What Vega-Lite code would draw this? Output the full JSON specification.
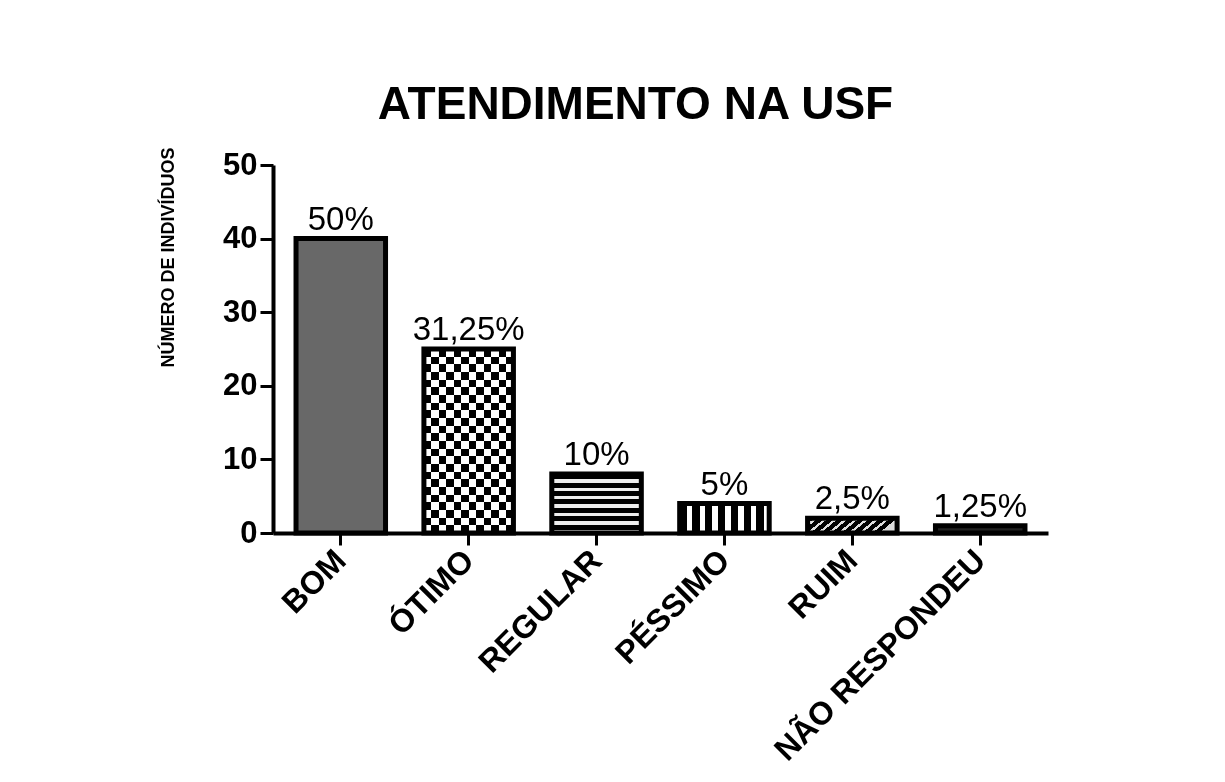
{
  "$schema": "https://vega.github.io/schema/vega-lite/v6.json",
  "width": 775,
  "height": 368,
  "autosize": {"type": "none"},
  "padding": {"left": 273, "top": 165, "right": 177, "bottom": 249},
  "background": "white",
  "title": {
    "text": "ATENDIMENTO NA USF",
    "font": "Liberation Sans",
    "fontSize": 46,
    "fontWeight": "bold",
    "color": "black",
    "anchor": "middle",
    "baseline": "alphabetic",
    "dx": -25,
    "dy": 62,
    "offset": 44
  },
  "data": {
    "values": [
      {"cat": "BOM", "n": 40, "pct": "50%"},
      {"cat": "ÓTIMO", "n": 25, "pct": "31,25%"},
      {"cat": "REGULAR", "n": 8, "pct": "10%"},
      {"cat": "PÉSSIMO", "n": 4, "pct": "5%"},
      {"cat": "RUIM", "n": 2, "pct": "2,5%"},
      {"cat": "NÃO RESPONDEU", "n": 1, "pct": "1,25%"}
    ]
  },
  "encoding": {
    "x": {
      "field": "cat",
      "type": "nominal",
      "sort": ["BOM", "ÓTIMO", "REGULAR", "PÉSSIMO", "RUIM", "NÃO RESPONDEU"],
      "scale": {"paddingInner": 0.3, "paddingOuter": 0.18},
      "axis": {
        "title": null,
        "labelAngle": -45,
        "labelAlign": "right",
        "labelBaseline": "middle",
        "labelFontSize": 32,
        "labelPadding": 10,
        "labelLimit": 600,
        "tickSize": 12
      }
    },
    "y": {
      "field": "n",
      "type": "quantitative",
      "scale": {"domain": [0, 50]},
      "axis": {
        "title": "NÚMERO DE INDIVÍDUOS",
        "titleFont": "Liberation Sans",
        "titleFontSize": 18,
        "titleFontWeight": "bold",
        "titleColor": "black",
        "titleAngle": -90,
        "titleAlign": "center",
        "titleBaseline": "alphabetic",
        "titleX": -100,
        "titleY": 92,
        "values": [0, 10, 20, 30, 40, 50],
        "labelFontSize": 31,
        "labelPadding": 3,
        "tickSize": 13
      }
    }
  },
  "layer": [
    {
      "mark": {"type": "bar", "strokeWidth": 0},
      "encoding": {
        "fill": {
          "condition": [
            {
              "test": "datum.cat === 'ÓTIMO'",
              "value": {
                "gradient": "linear", "x1": 0, "y1": 0, "x2": 0, "y2": 1,
                "stops": [
                  {"offset": 0, "color": "#000"}, {"offset": 0.0417, "color": "#000"}, {"offset": 0.0417, "color": "#fff"}, {"offset": 0.0833, "color": "#fff"},
                  {"offset": 0.0833, "color": "#000"}, {"offset": 0.125, "color": "#000"}, {"offset": 0.125, "color": "#fff"}, {"offset": 0.1667, "color": "#fff"},
                  {"offset": 0.1667, "color": "#000"}, {"offset": 0.2083, "color": "#000"}, {"offset": 0.2083, "color": "#fff"}, {"offset": 0.25, "color": "#fff"},
                  {"offset": 0.25, "color": "#000"}, {"offset": 0.2917, "color": "#000"}, {"offset": 0.2917, "color": "#fff"}, {"offset": 0.3333, "color": "#fff"},
                  {"offset": 0.3333, "color": "#000"}, {"offset": 0.375, "color": "#000"}, {"offset": 0.375, "color": "#fff"}, {"offset": 0.4167, "color": "#fff"},
                  {"offset": 0.4167, "color": "#000"}, {"offset": 0.4583, "color": "#000"}, {"offset": 0.4583, "color": "#fff"}, {"offset": 0.5, "color": "#fff"},
                  {"offset": 0.5, "color": "#000"}, {"offset": 0.5417, "color": "#000"}, {"offset": 0.5417, "color": "#fff"}, {"offset": 0.5833, "color": "#fff"},
                  {"offset": 0.5833, "color": "#000"}, {"offset": 0.625, "color": "#000"}, {"offset": 0.625, "color": "#fff"}, {"offset": 0.6667, "color": "#fff"},
                  {"offset": 0.6667, "color": "#000"}, {"offset": 0.7083, "color": "#000"}, {"offset": 0.7083, "color": "#fff"}, {"offset": 0.75, "color": "#fff"},
                  {"offset": 0.75, "color": "#000"}, {"offset": 0.7917, "color": "#000"}, {"offset": 0.7917, "color": "#fff"}, {"offset": 0.8333, "color": "#fff"},
                  {"offset": 0.8333, "color": "#000"}, {"offset": 0.875, "color": "#000"}, {"offset": 0.875, "color": "#fff"}, {"offset": 0.9167, "color": "#fff"},
                  {"offset": 0.9167, "color": "#000"}, {"offset": 0.9583, "color": "#000"}, {"offset": 0.9583, "color": "#fff"}, {"offset": 1, "color": "#fff"}
                ]
              }
            },
            {
              "test": "datum.cat === 'REGULAR'",
              "value": {
                "gradient": "linear", "x1": 0, "y1": 0, "x2": 0, "y2": 1,
                "stops": [
                  {"offset": 0, "color": "#000"}, {"offset": 0.0857, "color": "#000"}, {"offset": 0.0857, "color": "#eee"}, {"offset": 0.1429, "color": "#eee"},
                  {"offset": 0.1429, "color": "#000"}, {"offset": 0.2286, "color": "#000"}, {"offset": 0.2286, "color": "#eee"}, {"offset": 0.2857, "color": "#eee"},
                  {"offset": 0.2857, "color": "#000"}, {"offset": 0.3714, "color": "#000"}, {"offset": 0.3714, "color": "#eee"}, {"offset": 0.4286, "color": "#eee"},
                  {"offset": 0.4286, "color": "#000"}, {"offset": 0.5143, "color": "#000"}, {"offset": 0.5143, "color": "#eee"}, {"offset": 0.5714, "color": "#eee"},
                  {"offset": 0.5714, "color": "#000"}, {"offset": 0.6571, "color": "#000"}, {"offset": 0.6571, "color": "#eee"}, {"offset": 0.7143, "color": "#eee"},
                  {"offset": 0.7143, "color": "#000"}, {"offset": 0.8, "color": "#000"}, {"offset": 0.8, "color": "#eee"}, {"offset": 0.8571, "color": "#eee"},
                  {"offset": 0.8571, "color": "#000"}, {"offset": 0.9429, "color": "#000"}, {"offset": 0.9429, "color": "#eee"}, {"offset": 1, "color": "#eee"}
                ]
              }
            },
            {
              "test": "datum.cat === 'PÉSSIMO'",
              "value": {
                "gradient": "linear", "x1": 0, "y1": 0, "x2": 1, "y2": 0,
                "stops": [
                  {"offset": 0, "color": "#000"}, {"offset": 0.08, "color": "#000"}, {"offset": 0.08, "color": "#fff"}, {"offset": 0.1429, "color": "#fff"},
                  {"offset": 0.1429, "color": "#000"}, {"offset": 0.2229, "color": "#000"}, {"offset": 0.2229, "color": "#fff"}, {"offset": 0.2857, "color": "#fff"},
                  {"offset": 0.2857, "color": "#000"}, {"offset": 0.3657, "color": "#000"}, {"offset": 0.3657, "color": "#fff"}, {"offset": 0.4286, "color": "#fff"},
                  {"offset": 0.4286, "color": "#000"}, {"offset": 0.5086, "color": "#000"}, {"offset": 0.5086, "color": "#fff"}, {"offset": 0.5714, "color": "#fff"},
                  {"offset": 0.5714, "color": "#000"}, {"offset": 0.6514, "color": "#000"}, {"offset": 0.6514, "color": "#fff"}, {"offset": 0.7143, "color": "#fff"},
                  {"offset": 0.7143, "color": "#000"}, {"offset": 0.7943, "color": "#000"}, {"offset": 0.7943, "color": "#fff"}, {"offset": 0.8571, "color": "#fff"},
                  {"offset": 0.8571, "color": "#000"}, {"offset": 0.9371, "color": "#000"}, {"offset": 0.9371, "color": "#fff"}, {"offset": 1, "color": "#fff"}
                ]
              }
            },
            {
              "test": "datum.cat === 'RUIM'",
              "value": {
                "gradient": "linear", "x1": 0, "y1": 0, "x2": 1, "y2": 0.2,
                "stops": [
                  {"offset": 0, "color": "#000"}, {"offset": 0.0722, "color": "#000"}, {"offset": 0.0722, "color": "#ddd"}, {"offset": 0.1111, "color": "#ddd"},
                  {"offset": 0.1111, "color": "#000"}, {"offset": 0.1833, "color": "#000"}, {"offset": 0.1833, "color": "#ddd"}, {"offset": 0.2222, "color": "#ddd"},
                  {"offset": 0.2222, "color": "#000"}, {"offset": 0.2944, "color": "#000"}, {"offset": 0.2944, "color": "#ddd"}, {"offset": 0.3333, "color": "#ddd"},
                  {"offset": 0.3333, "color": "#000"}, {"offset": 0.4056, "color": "#000"}, {"offset": 0.4056, "color": "#ddd"}, {"offset": 0.4444, "color": "#ddd"},
                  {"offset": 0.4444, "color": "#000"}, {"offset": 0.5167, "color": "#000"}, {"offset": 0.5167, "color": "#ddd"}, {"offset": 0.5556, "color": "#ddd"},
                  {"offset": 0.5556, "color": "#000"}, {"offset": 0.6278, "color": "#000"}, {"offset": 0.6278, "color": "#ddd"}, {"offset": 0.6667, "color": "#ddd"},
                  {"offset": 0.6667, "color": "#000"}, {"offset": 0.7389, "color": "#000"}, {"offset": 0.7389, "color": "#ddd"}, {"offset": 0.7778, "color": "#ddd"},
                  {"offset": 0.7778, "color": "#000"}, {"offset": 0.85, "color": "#000"}, {"offset": 0.85, "color": "#ddd"}, {"offset": 0.8889, "color": "#ddd"},
                  {"offset": 0.8889, "color": "#000"}, {"offset": 0.9611, "color": "#000"}, {"offset": 0.9611, "color": "#ddd"}, {"offset": 1, "color": "#ddd"}
                ]
              }
            },
            {"test": "datum.cat === 'NÃO RESPONDEU'", "value": "#222"}
          ],
          "value": "#686868"
        }
      }
    },
    {
      "transform": [{"filter": "datum.cat === 'ÓTIMO'"}],
      "mark": {
        "type": "bar",
        "strokeWidth": 0,
        "blend": "difference",
        "fill": {
          "gradient": "linear", "x1": 0, "y1": 0, "x2": 1, "y2": 0,
          "stops": [
            {"offset": 0, "color": "#000"}, {"offset": 0.0833, "color": "#000"}, {"offset": 0.0833, "color": "#fff"}, {"offset": 0.1667, "color": "#fff"},
            {"offset": 0.1667, "color": "#000"}, {"offset": 0.25, "color": "#000"}, {"offset": 0.25, "color": "#fff"}, {"offset": 0.3333, "color": "#fff"},
            {"offset": 0.3333, "color": "#000"}, {"offset": 0.4167, "color": "#000"}, {"offset": 0.4167, "color": "#fff"}, {"offset": 0.5, "color": "#fff"},
            {"offset": 0.5, "color": "#000"}, {"offset": 0.5833, "color": "#000"}, {"offset": 0.5833, "color": "#fff"}, {"offset": 0.6667, "color": "#fff"},
            {"offset": 0.6667, "color": "#000"}, {"offset": 0.75, "color": "#000"}, {"offset": 0.75, "color": "#fff"}, {"offset": 0.8333, "color": "#fff"},
            {"offset": 0.8333, "color": "#000"}, {"offset": 0.9167, "color": "#000"}, {"offset": 0.9167, "color": "#fff"}, {"offset": 1, "color": "#fff"}
          ]
        }
      }
    },
    {
      "mark": {"type": "bar", "fill": "transparent", "stroke": "black", "strokeWidth": 5}
    },
    {
      "mark": {
        "type": "text",
        "baseline": "alphabetic",
        "dy": -9,
        "font": "Liberation Sans",
        "fontSize": 33,
        "color": "black"
      },
      "encoding": {"text": {"field": "pct", "type": "nominal"}}
    }
  ],
  "config": {
    "view": {"stroke": null},
    "axis": {
      "grid": false,
      "domainColor": "black",
      "domainWidth": 4,
      "tickColor": "black",
      "tickWidth": 3,
      "labelColor": "black",
      "labelFont": "Liberation Sans",
      "labelFontWeight": "bold"
    }
  }
}
